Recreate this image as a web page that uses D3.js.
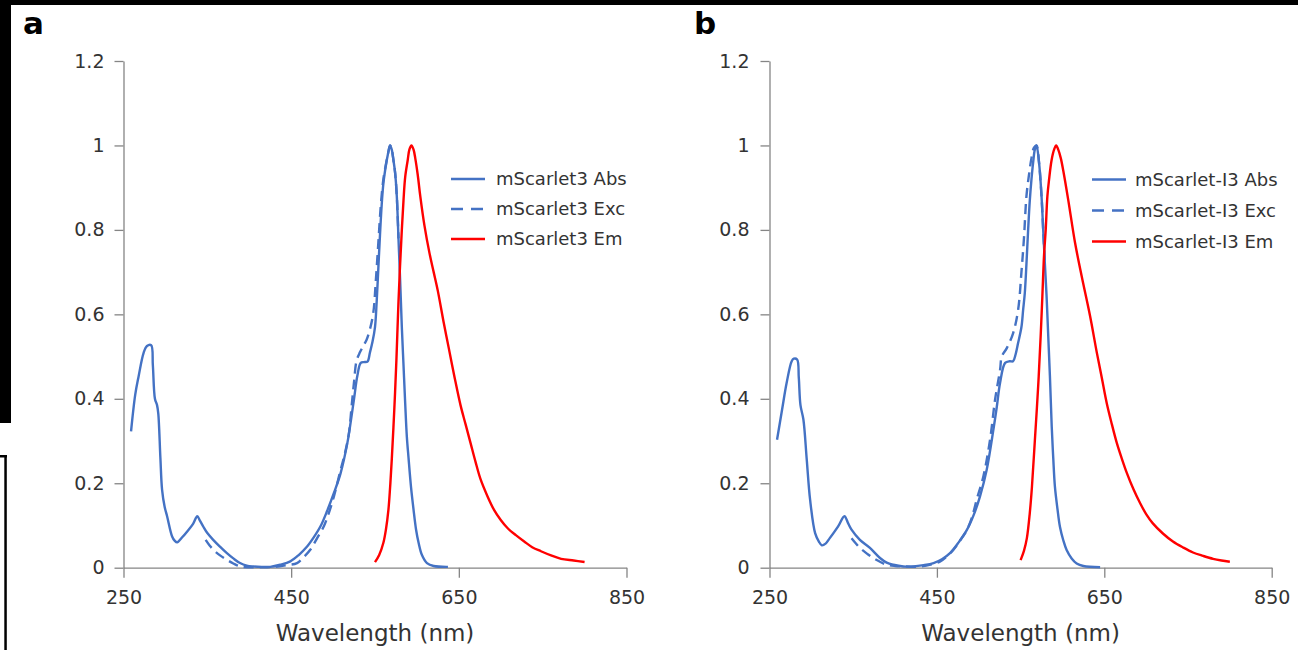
<!DOCTYPE html>
<html>
<head>
<meta charset="utf-8">
<script src="https://cdn.jsdelivr.net/npm/d3@7"></script>
<style>
  html, body { margin: 0; padding: 0; background: #fff; }
  svg { display: block; }
</style>
</head>
<body>
<svg id="chart" width="1298" height="650"></svg>
<script>
// Normalised spectra, [wavelength (nm), value]
const absA = [[259,0.323],[264,0.41],[268,0.453],[274,0.509],[278,0.525],[283,0.527],[285,0.48],[287.5,0.40],[290,0.385],[291.5,0.365],[294,0.26],[296,0.185],[299,0.145],[302,0.122],[308,0.074],[311,0.064],[314,0.060],[320,0.072],[326,0.086],[333,0.104],[338,0.122],[341,0.112],[345,0.098],[350,0.082],[357,0.066],[365,0.050],[373,0.035],[381,0.022],[389,0.011],[397,0.005],[405,0.003],[415,0.002],[425,0.002],[437,0.007],[449,0.015],[459,0.03],[469,0.05],[477,0.072],[485,0.098],[493,0.135],[501,0.177],[509,0.224],[517,0.295],[521,0.345],[525,0.40],[529,0.455],[533,0.485],[537,0.487],[541,0.488],[544,0.51],[547,0.535],[550,0.57],[552,0.63],[554,0.71],[556,0.79],[558,0.86],[560,0.91],[562,0.94],[565,0.975],[568,1.0],[570,0.99],[572,0.965],[574,0.935],[576,0.88],[578,0.78],[580,0.68],[582,0.57],[584,0.48],[586,0.39],[588,0.31],[590,0.26],[593,0.19],[596,0.137],[599,0.09],[602,0.059],[606,0.03],[612,0.011],[620,0.004],[637,0.002]];
const excA = [[348,0.066],[353,0.052],[359,0.039],[366,0.028],[373,0.019],[381,0.01],[389,0.003],[400,0.001],[415,0.001],[430,0.002],[444,0.006],[457,0.011],[465,0.025],[473,0.043],[481,0.07],[489,0.098],[495,0.13],[501,0.169],[509,0.232],[514,0.27],[519,0.32],[522,0.38],[525,0.44],[528,0.49],[532,0.51],[536,0.525],[540,0.54],[544,0.565],[548,0.604],[551,0.68],[554,0.77],[557,0.86],[560,0.92],[563,0.955],[566,0.985],[568,1.0],[570,0.99],[572,0.965],[574,0.935],[576,0.88],[578,0.78]];
const emA = [[550,0.013],[555,0.03],[560,0.059],[563,0.09],[566,0.137],[568,0.19],[570,0.256],[573,0.374],[575.5,0.49],[578,0.63],[580,0.72],[582,0.8],[584,0.87],[586,0.925],[589,0.965],[591,0.99],[593.5,1.0],[596,0.99],[598,0.97],[601,0.93],[604,0.88],[609,0.81],[615,0.745],[620,0.70],[625,0.655],[632,0.58],[638,0.52],[645,0.45],[652,0.385],[658,0.34],[664,0.295],[670,0.25],[676,0.209],[684,0.17],[692,0.137],[700,0.113],[708,0.094],[718,0.077],[728,0.062],[738,0.048],[748,0.039],[760,0.029],[772,0.021],[787,0.017],[800,0.0135]];

const absB = [[259,0.303],[265,0.374],[270.5,0.438],[276.5,0.489],[279,0.495],[283,0.493],[285,0.45],[287,0.385],[290.5,0.351],[294.5,0.256],[298.5,0.161],[304.5,0.082],[309,0.062],[312.5,0.053],[317,0.057],[322,0.07],[332,0.098],[339.5,0.122],[344,0.105],[348,0.09],[358,0.066],[370,0.047],[382,0.023],[390,0.012],[398,0.007],[410,0.003],[422,0.003],[434,0.006],[446,0.011],[456,0.02],[466,0.035],[476,0.06],[486,0.09],[494,0.125],[501.5,0.169],[509.5,0.232],[517.5,0.327],[521.5,0.38],[525.5,0.438],[531.5,0.485],[537,0.489],[541,0.489],[544,0.505],[547,0.532],[551,0.57],[553,0.61],[555,0.65],[557,0.72],[559,0.80],[561,0.87],[563,0.92],[565,0.96],[567,0.99],[569,1.0],[572,0.96],[575,0.88],[577,0.8],[579,0.72],[581,0.645],[583,0.55],[585,0.455],[587.2,0.334],[589,0.26],[591,0.192],[594,0.14],[597,0.097],[601,0.065],[605,0.042],[611,0.022],[617,0.010],[625,0.004],[645,0.001]];
const excB = [[348,0.07],[353,0.058],[358,0.047],[366,0.034],[374,0.023],[382,0.014],[390,0.007],[400,0.004],[410,0.003],[432,0.003],[444,0.008],[454,0.015],[462,0.027],[470,0.043],[478,0.065],[486,0.09],[492,0.12],[497.5,0.161],[505.5,0.216],[513.5,0.303],[519.5,0.398],[525.5,0.469],[527.5,0.5],[533.5,0.52],[541,0.555],[547,0.61],[551,0.70],[554,0.78],[557,0.88],[560,0.93],[563,0.97],[566,0.995],[569,1.0],[572,0.96],[575,0.88],[577,0.8],[579,0.72]];
const emB = [[550,0.018],[554,0.04],[557.5,0.07],[561,0.13],[563.5,0.19],[567,0.3],[571,0.43],[574,0.55],[576,0.643],[578,0.74],[580,0.80],[582,0.88],[584,0.919],[587,0.965],[590,0.99],[592.5,1.0],[595,0.99],[598,0.97],[601,0.94],[607,0.87],[615,0.77],[623,0.69],[633,0.596],[641,0.51],[647,0.45],[653,0.389],[659,0.34],[665,0.295],[671,0.258],[677,0.224],[685,0.185],[693,0.152],[700,0.127],[708,0.105],[720,0.081],[732,0.062],[744,0.048],[756,0.036],[768,0.028],[780,0.021],[790,0.017],[800,0.014]];

const xTicks = [250, 450, 650, 850];
const yTicks = [0, 0.2, 0.4, 0.6, 0.8, 1, 1.2];
const seriesNamesA = ["mScarlet3 Abs", "mScarlet3 Exc", "mScarlet3 Em"];
const seriesNamesB = ["mScarlet-I3 Abs", "mScarlet-I3 Exc", "mScarlet-I3 Em"];

const BLUE = "#4472c4", RED = "#ff0000", AXIS = "#858585", TEXT = "#333333";
const FONT = "'DejaVu Sans', sans-serif";

const svg = d3.select("#chart");
svg.append("rect").attr("width", 1298).attr("height", 650).attr("fill", "#fff");

// page frame pieces
svg.append("rect").attr("x", 0).attr("y", 0).attr("width", 1298).attr("height", 5).attr("fill", "#000");
svg.append("rect").attr("x", 0).attr("y", 0).attr("width", 11).attr("height", 423).attr("fill", "#000");
svg.append("rect").attr("x", 0).attr("y", 455).attr("width", 7).attr("height", 2.5).attr("fill", "#000");
svg.append("rect").attr("x", 4.3).attr("y", 455).attr("width", 2.5).attr("height", 195).attr("fill", "#000");

function panel(cfg) {
  const x = d3.scaleLinear().domain([250, 850]).range([cfg.x0, cfg.x1]);
  const y = d3.scaleLinear().domain([0, 1.2]).range([567.7, 61]);
  const g = svg.append("g");

  const xAxis = g.append("g").attr("transform", `translate(0,${y(0)})`)
    .call(d3.axisBottom(x).tickValues(xTicks).tickSize(10).tickSizeOuter(0).tickPadding(13).tickFormat(d3.format("d")));
  const yAxis = g.append("g").attr("transform", `translate(${x(250)},0)`)
    .call(d3.axisLeft(y).tickValues(yTicks).tickSize(9).tickSizeOuter(0).tickPadding(cfg.yPad).tickFormat(d3.format("~g")));
  [xAxis, yAxis].forEach(a => {
    a.selectAll("path.domain").attr("stroke", AXIS).attr("stroke-width", 1.3);
    a.selectAll(".tick line").attr("stroke", AXIS).attr("stroke-width", 1.3);
    a.selectAll(".tick text").attr("fill", TEXT).style("font-family", FONT).style("font-size", "19px");
  });

  g.append("text").attr("x", (cfg.x0 + cfg.x1) / 2).attr("y", 641)
    .attr("text-anchor", "middle").attr("fill", TEXT)
    .style("font-family", FONT).style("font-size", "23px").text("Wavelength (nm)");

  g.append("text").attr("x", cfg.labelX).attr("y", 34)
    .attr("fill", "#000").style("font-family", FONT)
    .style("font-weight", "bold").style("font-size", "31px").text(cfg.label);

  const line = d3.line().x(d => x(d[0])).y(d => y(d[1])).curve(d3.curveCatmullRom.alpha(0.5));
  const series = [
    { data: cfg.abs, color: BLUE, dash: null },
    { data: cfg.exc, color: BLUE, dash: "10,6" },
    { data: cfg.em, color: RED, dash: null }
  ];
  series.forEach(s => {
    g.append("path").datum(s.data).attr("d", line)
      .attr("fill", "none").attr("stroke", s.color).attr("stroke-width", 2.4)
      .attr("stroke-linejoin", "round").attr("stroke-dasharray", s.dash);
  });

  // legend
  const lg = g.append("g");
  series.forEach((s, i) => {
    const ly = cfg.legY[i];
    lg.append("line").attr("x1", cfg.legX).attr("x2", cfg.legX + 34).attr("y1", ly).attr("y2", ly)
      .attr("stroke", s.color).attr("stroke-width", 2.4).attr("stroke-dasharray", s.dash ? "12,8" : null);
    lg.append("text").attr("x", cfg.legX + cfg.legGap).attr("y", ly).attr("dy", "0.36em")
      .attr("fill", TEXT).style("font-family", FONT).style("font-size", "18px").text(cfg.names[i]);
  });
}

panel({ x0: 123.5, x1: 626.5, yPad: 10, label: "a", labelX: 23,
  abs: absA, exc: excA, em: emA, names: seriesNamesA,
  legX: 451, legGap: 45, legY: [179, 209, 239] });
panel({ x0: 769.5, x1: 1271.7, yPad: 11, label: "b", labelX: 694,
  abs: absB, exc: excB, em: emB, names: seriesNamesB,
  legX: 1092, legGap: 43, legY: [179.5, 210.5, 241.5] });
</script>
</body>
</html>
